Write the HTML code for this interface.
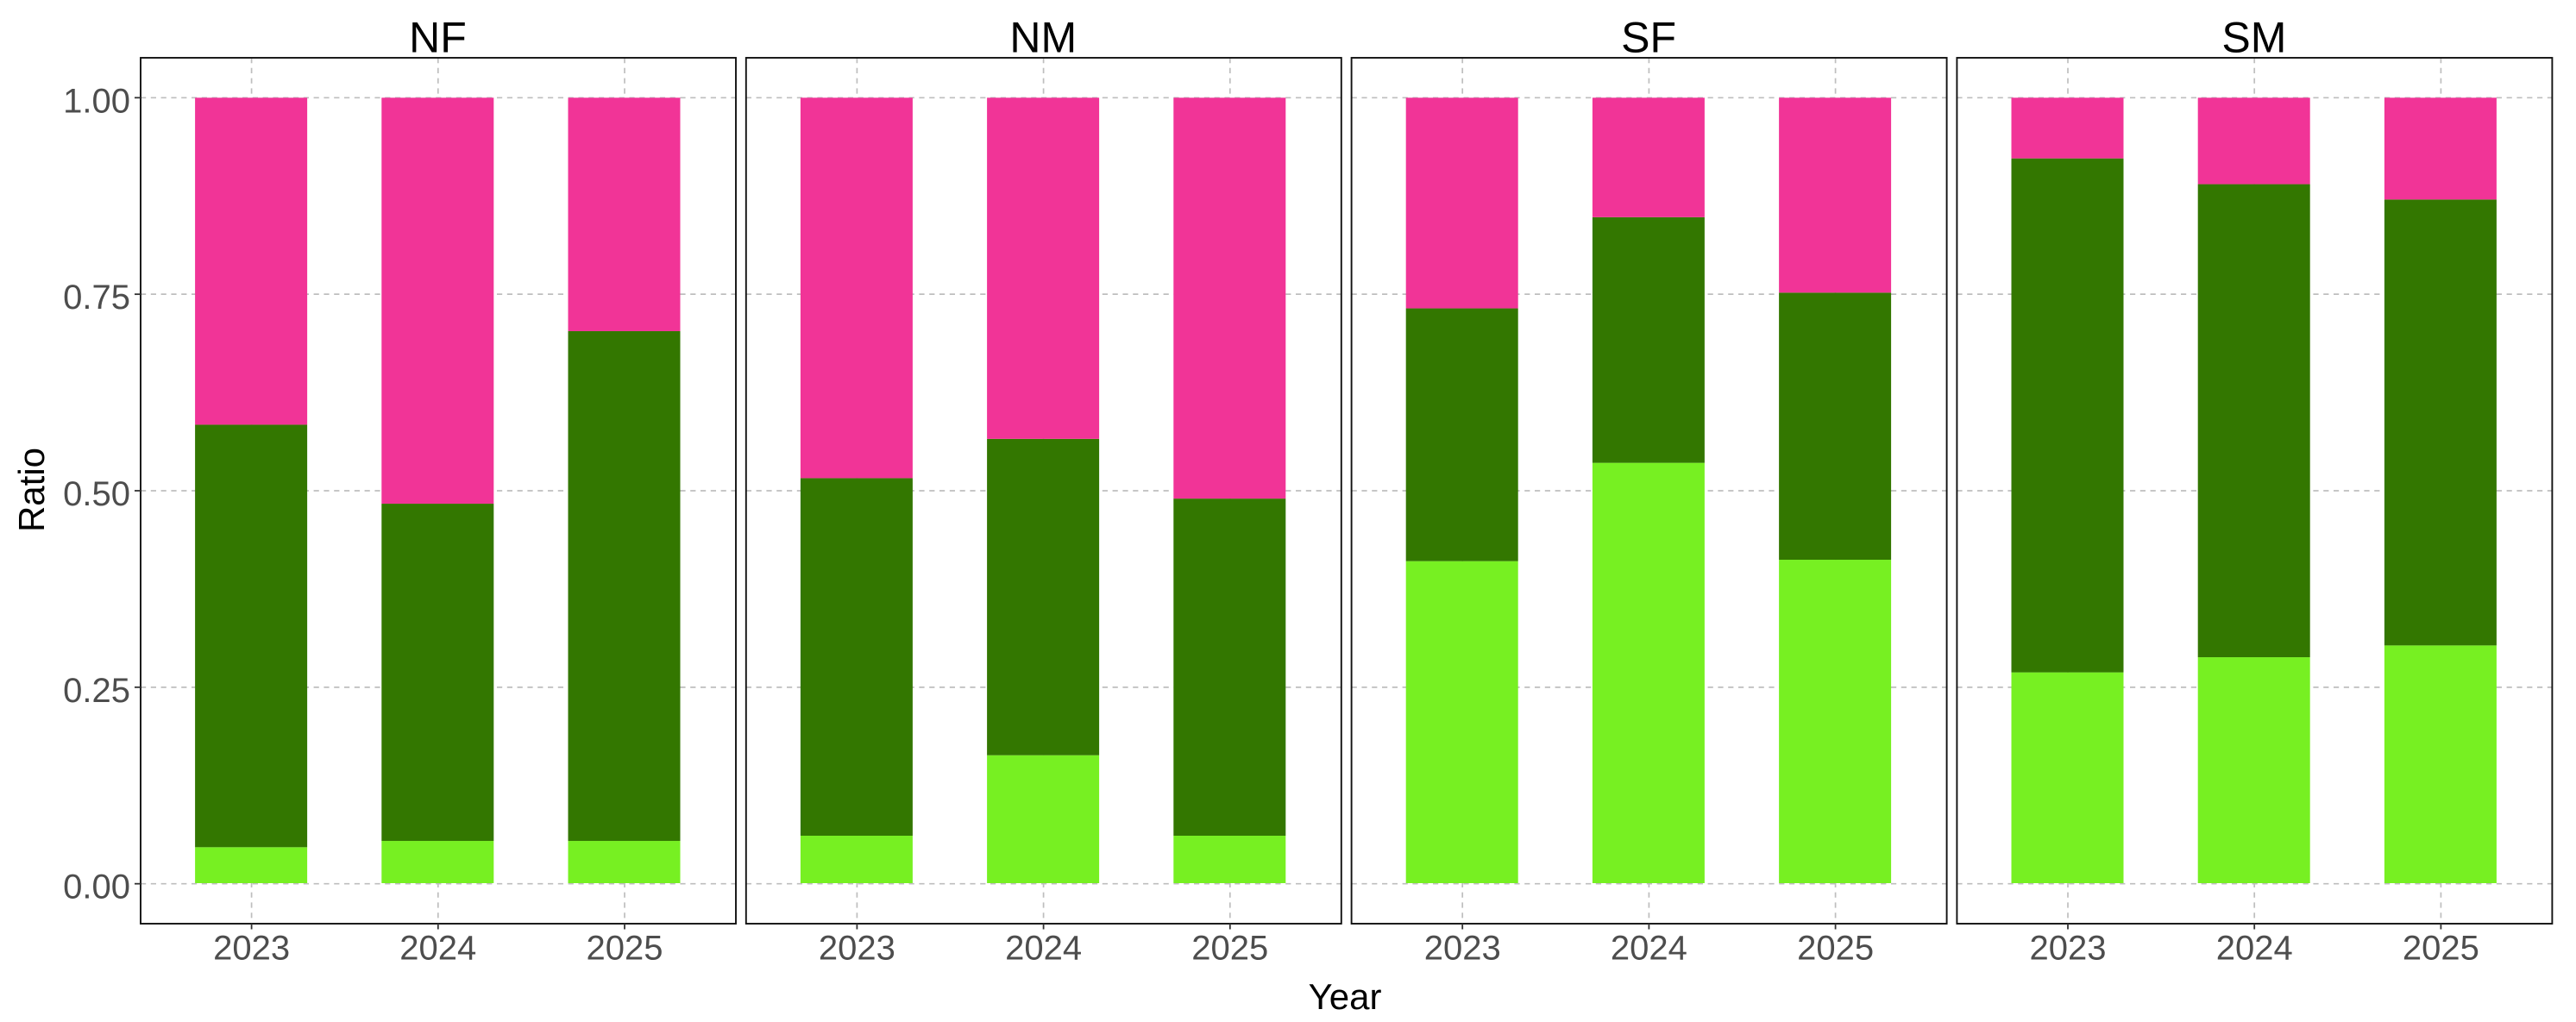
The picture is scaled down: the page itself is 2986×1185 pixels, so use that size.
<!DOCTYPE html>
<html lang="en">
<head>
<meta charset="utf-8">
<title>Ratio by Year</title>
<style>
html,body{margin:0;padding:0;background:#fff;width:2986px;height:1185px;overflow:hidden}
svg{display:block}
text{font-family:"Liberation Sans",Arial,sans-serif}
</style>
</head>
<body>
<svg id="chart" xmlns="http://www.w3.org/2000/svg" width="2986" height="1185" viewBox="0 0 2986 1185">
<rect x="0" y="0" width="2986" height="1185" fill="#ffffff"/>
</svg>
<script>
const panels = ['NF', 'NM', 'SF', 'SM'];
const years = ['2023', '2024', '2025'];
const yTicks = [0, 0.25, 0.5, 0.75, 1];
const yTickLabels = ['0.00', '0.25', '0.50', '0.75', '1.00'];

const lightNF = [0.0465, 0.0545, 0.0545];
const darkNF = [0.5375, 0.429, 0.6485];
const pinkNF = [0.416, 0.5165, 0.297];

const lightNM = [0.0611, 0.1635, 0.0611];
const darkNM = [0.4549, 0.4025, 0.4289];
const pinkNM = [0.484, 0.434, 0.51];

const lightSF = [0.4104, 0.5355, 0.4122];
const darkSF = [0.3216, 0.3125, 0.3398];
const pinkSF = [0.268, 0.152, 0.248];

const lightSM = [0.2689, 0.2882, 0.3032];
const darkSM = [0.6539, 0.6018, 0.5673];
const pinkSM = [0.0772, 0.11, 0.1295];

const lightSeries = [lightNF, lightNM, lightSF, lightSM];
const darkSeries = [darkNF, darkNM, darkSF, darkSM];
const pinkSeries = [pinkNF, pinkNM, pinkSF, pinkSM];

const COLOR_LIGHT = '#77F022';
const COLOR_DARK = '#337700';
const COLOR_PINK = '#F13497';

const svg = document.getElementById('chart');
const NS = 'http://www.w3.org/2000/svg';
const PANEL_W = 690;
const PANEL_STEP = 701.8;
const PANEL_LEFT = 163;
const PANEL_TOP = 67;
const PANEL_BOTTOM = 1071;
const UNIT = 216.2;
const FIRST_OFFSET = 128.6;
const BAR_W = 130;

function yScale(v) { return 1024.7 - 911.4 * v; }
function panelX(p) { return PANEL_LEFT + p * PANEL_STEP; }
function xScale(p, i) { return panelX(p) + FIRST_OFFSET + i * UNIT; }

function make(tag, attrs, parent) {
  const el = document.createElementNS(NS, tag);
  for (const k in attrs) el.setAttribute(k, attrs[k]);
  (parent || svg).appendChild(el);
  return el;
}

panels.forEach(function (panel, p) {
  const key = panel.toLowerCase();
  const left = panelX(p);
  const right = left + PANEL_W;

  const group = make('g', {});
  
  

  yTicks.forEach(function (t) {
    const g = make('line', { x1: left, x2: right, y1: yScale(t), y2: yScale(t), stroke: '#bebebe', 'stroke-width': 1.7, 'stroke-dasharray': '6.2 5.6' }, group);
    
    
  });

  years.forEach(function (y, i) {
    const x = xScale(p, i);
    const g = make('line', { x1: x, x2: x, y1: PANEL_TOP, y2: PANEL_BOTTOM, stroke: '#bebebe', 'stroke-width': 1.7, 'stroke-dasharray': '6.2 5.6' }, group);
    
    
  });

  years.forEach(function (y, i) {
    const x = xScale(p, i) - 0.5 - BAR_W / 2;
    const light = lightSeries[p][i];
    const dark = darkSeries[p][i];
    const pink = pinkSeries[p][i];

    const r1 = make('rect', { x: x, width: BAR_W, y: yScale(light), height: yScale(0) - yScale(light) - 0.7, fill: COLOR_LIGHT }, group);
    
    

    const r2 = make('rect', { x: x, width: BAR_W, y: yScale(light + dark), height: yScale(light) - yScale(light + dark), fill: COLOR_DARK }, group);
    
    

    const r3 = make('rect', { x: x, width: BAR_W, y: yScale(light + dark + pink), height: yScale(light + dark) - yScale(light + dark + pink), fill: COLOR_PINK }, group);
    
    
  });

  const border = make('rect', { x: left, y: PANEL_TOP, width: PANEL_W, height: PANEL_BOTTOM - PANEL_TOP, fill: 'none', stroke: '#111111', 'stroke-width': 1.9 }, group);
  
  

  const strip = make('text', { x: left + PANEL_W / 2 - 0.5, y: 60.5, 'text-anchor': 'middle', 'font-size': 50, fill: '#000000' }, group);
  strip.textContent = panel;
  
  

  years.forEach(function (y, i) {
    const x = xScale(p, i);
    const tick = make('line', { x1: x, x2: x, y1: PANEL_BOTTOM, y2: PANEL_BOTTOM + 6.5, stroke: '#333333', 'stroke-width': 1.8 }, group);
    
    

    const label = make('text', { x: x, y: 1112.7, 'text-anchor': 'middle', 'font-size': 40, fill: '#4D4D4D' }, group);
    label.textContent = y;
    
    
  });
});

yTicks.forEach(function (t, i) {
  const tick = make('line', { x1: PANEL_LEFT - 7, x2: PANEL_LEFT, y1: yScale(t), y2: yScale(t), stroke: '#333333', 'stroke-width': 1.8 });
  
  

  const label = make('text', { x: 151, y: yScale(t) + 17, 'text-anchor': 'end', 'font-size': 40, fill: '#4D4D4D' });
  label.textContent = yTickLabels[i];
  
  
});

const xTitle = make('text', { x: 1559, y: 1170, 'text-anchor': 'middle', 'font-size': 42, fill: '#000000' });
xTitle.textContent = 'Year';



const yTitle = make('text', { x: 0, y: 0, transform: 'translate(51 568) rotate(-90)', 'text-anchor': 'middle', 'font-size': 42, fill: '#000000' });
yTitle.textContent = 'Ratio';


</script>
</body>
</html>
